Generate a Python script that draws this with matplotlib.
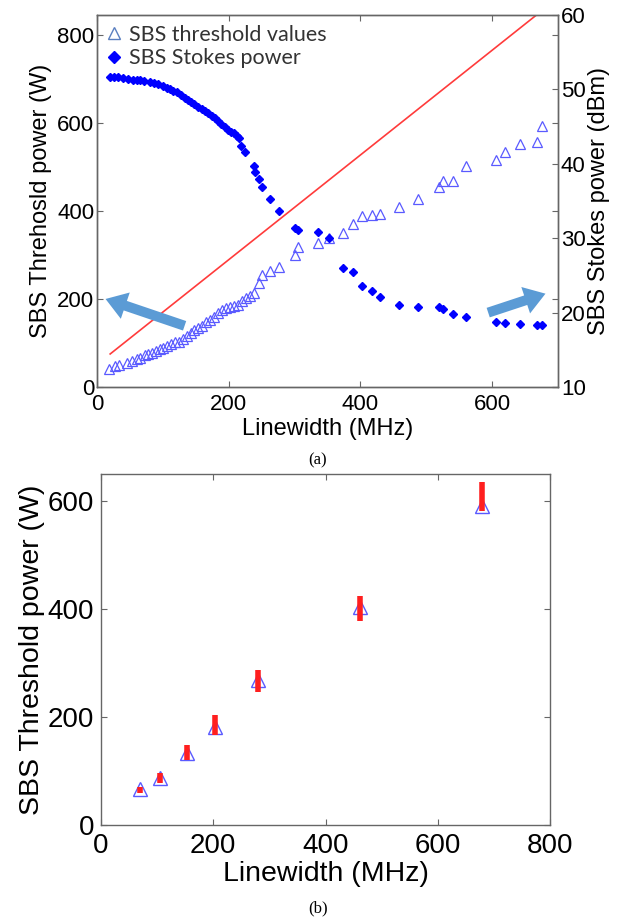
import matplotlib
matplotlib.use("Agg")
import matplotlib.pyplot as plt
from matplotlib.lines import Line2D

# ---------------- data: panel (a) ----------------
thr_x = [18, 27, 34, 45, 53, 60, 66, 73, 78, 83, 89, 95, 100, 106, 112, 118, 124, 130,
         136, 142, 148, 154, 160, 166, 172, 178, 184, 190, 196, 202, 208, 214, 220, 226,
         232, 239, 246, 251, 262, 277, 300, 305, 336, 353, 373, 389, 403, 418, 430, 459,
         488, 519, 525, 540, 561, 606, 620, 643, 668, 676]
thr_v = [42, 48, 51, 54, 60, 63, 67, 72, 75, 77, 81, 86, 89, 93, 97, 102, 103, 108,
         116, 122, 130, 135, 139, 147, 152, 160, 168, 176, 180, 182, 184, 186, 196, 202,
         207, 213, 236, 255, 264, 273, 300, 319, 327, 338, 349, 370, 389, 391, 392, 408,
         426, 455, 467, 469, 501, 516, 534, 552, 557, 592]

stk_x = [20, 26, 32, 40, 47, 54, 60, 66, 72, 80, 86, 92, 100, 106, 111, 116, 121, 127,
         133, 138, 143, 148, 153, 159, 164, 169, 174, 179, 184, 189, 194, 199, 204, 208,
         212, 216, 219, 224, 238, 240, 246, 251, 262, 277, 300, 305, 336, 353, 373, 389,
         403, 418, 430, 459, 488, 519, 525, 540, 561, 606, 620, 643, 668, 676]
stk_d = [51.7, 51.7, 51.6, 51.5, 51.4, 51.3, 51.3, 51.2, 51.1, 51.0, 50.8, 50.7, 50.4,
         50.2, 50.0, 49.8, 49.6, 49.3, 48.9, 48.6, 48.3, 48.0, 47.7, 47.4, 47.1, 46.8,
         46.4, 46.1, 45.7, 45.3, 44.9, 44.6, 44.3, 44.1, 43.8, 43.5, 42.4, 41.6, 39.7,
         38.9, 38.0, 36.9, 35.3, 33.7, 31.4, 31.1, 30.9, 30.0, 26.0, 25.5, 23.6, 22.9,
         22.1, 21.0, 20.8, 20.7, 20.5, 19.8, 19.4, 18.8, 18.6, 18.5, 18.3, 18.3]

line_x = [20, 690]
line_v = [75, 872]

# ---------------- data: panel (b) ----------------
b_x = [70, 105, 153, 204, 279, 461, 679]
b_v = [66, 87, 133, 182, 268, 404, 590]
b_lo = [60, 78, 120, 167, 247, 377, 581]
b_hi = [71, 96, 148, 204, 287, 425, 636]

SANS = ["Liberation Sans", "DejaVu Sans"]
plt.rcParams["font.family"] = SANS

fig = plt.figure(figsize=(6.37, 9.22), dpi=100)

SPC = "#666666"
BLUE_T = "#5a5aff"
BLUE_D = "#0000ff"

def style_axes(ax, fs):
    for s in ax.spines.values():
        s.set_color(SPC)
        s.set_linewidth(1.0)
    ax.tick_params(direction="in", length=4, width=0.8, color=SPC,
                   labelsize=fs, labelcolor="black", pad=2)

# ---------- top panel ----------
ax = fig.add_axes([97/637, 1-387/922, (558-97)/637, (387-15)/922])
ax2 = ax.twinx()

ax.plot(line_x, line_v, color="#ff3b3b", lw=1.2, zorder=2)
ax.plot(thr_x, thr_v, ls="none", marker="^", ms=6.5, mfc="none", mec=BLUE_T,
        mew=0.9, zorder=3)
ax2.plot(stk_x, stk_d, ls="none", marker="D", ms=4.0, color=BLUE_D, mec=BLUE_D,
         zorder=3)

ax.set_xlim(0, 700)
ax.set_ylim(0, 845)
ax2.set_ylim(10, 60)
ax.set_xticks([0, 200, 400, 600])
ax.set_yticks([0, 200, 400, 600, 800])
ax2.set_yticks([10, 20, 30, 40, 50, 60])

style_axes(ax, 16)
style_axes(ax2, 16)
ax.tick_params(top=True, right=True, labelright=False)
ax.tick_params(axis="x", pad=5)
ax2.tick_params(left=False)

ax.set_xlabel("Linewidth (MHz)", fontsize=17, labelpad=2)
ax.set_ylabel("SBS Threhosld power (W)", fontsize=17, labelpad=4)
ax2.set_ylabel("SBS Stokes power (dBm)", fontsize=17, labelpad=2)

arrow_style = "simple,head_length=0.75,head_width=1.0,tail_width=0.36"
ax.annotate("", xy=(9, 202), xytext=(137, 137),
            arrowprops=dict(arrowstyle=arrow_style, color="#5b9bd5",
                            mutation_scale=20, lw=0), zorder=4)
ax.annotate("", xy=(685, 214), xytext=(590, 167),
            arrowprops=dict(arrowstyle=arrow_style, color="#5b9bd5",
                            mutation_scale=20, lw=0), zorder=4)

handles = [Line2D([], [], ls="none", marker="^", ms=8, mfc="none", mec="#5a7fc0", mew=1.0),
           Line2D([], [], ls="none", marker="D", ms=6, color=BLUE_D)]
leg = ax.legend(handles, ["SBS threshold values", "SBS Stokes power"], loc="upper left",
                bbox_to_anchor=(-0.01, 1.008), frameon=False, handlelength=0.8,
                handletextpad=0.3, labelspacing=0.15, borderaxespad=0.2,
                prop={"family": ["Lato", "DejaVu Sans"], "size": 15.5})
for t in leg.get_texts():
    t.set_color("#333333")
ax2.set_zorder(ax.get_zorder() + 1)
ax.patch.set_visible(True)
ax2.patch.set_visible(False)

fig.text(318/637, 1-460/922, "(a)", ha="center", va="center",
         family=["Liberation Serif", "DejaVu Serif"], fontsize=12)

# ---------- bottom panel ----------
bx = fig.add_axes([101/637, 1-825/922, (550-101)/637, (825-474)/922])
bx.plot(b_x, b_v, ls="none", marker="^", ms=10, mfc="none", mec=BLUE_T, mew=1.0,
        zorder=3)
bx.vlines(b_x, b_lo, b_hi, color="#ff1f1f", lw=4, zorder=4)
bx.set_xlim(0, 800)
bx.set_ylim(0, 650)
bx.set_xticks([0, 200, 400, 600, 800])
bx.set_yticks([0, 200, 400, 600])
style_axes(bx, 20)
bx.tick_params(top=True, right=True, length=4)
bx.tick_params(axis="x", pad=6)
bx.tick_params(axis="y", pad=5)
bx.set_xlabel("Linewidth (MHz)", fontsize=20.5, labelpad=1)
bx.set_ylabel("SBS Threshold power (W)", fontsize=20.5, labelpad=2)

fig.text(318/637, 1-908/922, "(b)", ha="center", va="center",
         family=["Liberation Serif", "DejaVu Serif"], fontsize=12)

fig.savefig("out.png", dpi=100)
